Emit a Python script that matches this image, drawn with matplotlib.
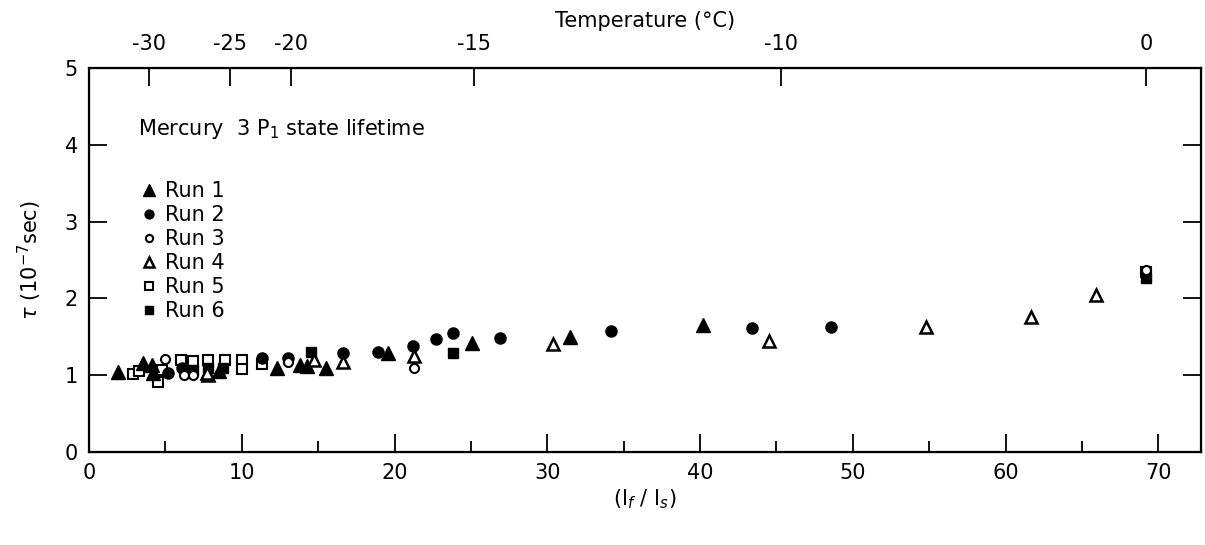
import matplotlib.pyplot as plt
from matplotlib.ticker import MultipleLocator

# data: x = I_f / I_s, y = lifetime (1e-7 s)
run1_x = [1.9, 3.5, 4.1, 4.2, 8.5, 12.3, 13.8, 14.3, 15.5, 19.6, 25.1, 31.5, 40.2]
run1_y = [1.04, 1.16, 1.13, 1.03, 1.05, 1.10, 1.13, 1.12, 1.09, 1.29, 1.42, 1.50, 1.65]

run2_x = [5.2, 6.1, 11.3, 13.0, 16.6, 18.9, 21.2, 22.7, 23.8, 26.9, 34.2, 43.4, 48.6]
run2_y = [1.03, 1.09, 1.22, 1.22, 1.29, 1.30, 1.38, 1.47, 1.55, 1.48, 1.58, 1.62, 1.63]

run3_x = [5.0, 6.2, 6.8, 13.0, 21.3, 69.2]
run3_y = [1.21, 1.00, 1.00, 1.17, 1.10, 2.37]

run4_x = [7.8, 7.7, 14.7, 16.6, 21.3, 30.4, 44.5, 54.8, 61.7, 65.9]
run4_y = [1.00, 1.03, 1.20, 1.17, 1.25, 1.41, 1.45, 1.63, 1.76, 2.04]

run5_x = [2.9, 3.3, 4.5, 4.8, 6.0, 6.8, 7.8, 8.9, 10.0, 10.0, 11.3, 69.2]
run5_y = [1.02, 1.05, 0.91, 1.07, 1.20, 1.18, 1.20, 1.20, 1.20, 1.08, 1.15, 2.35]

run6_x = [6.8, 7.8, 8.8, 14.5, 23.8, 69.2]
run6_y = [1.07, 1.09, 1.10, 1.30, 1.29, 2.27]

# top axis: temperature labels at their I_f/I_s positions
temp_pos = [3.95, 9.2, 13.2, 25.2, 45.3, 69.2]
temp_labels = ['-30', '-25', '-20', '-15', '-10', '0']

plt.rcParams['font.family'] = 'DejaVu Sans'
plt.rcParams['font.size'] = 15

fig = plt.figure(figsize=(12.05, 5.45), dpi=100)
ax = fig.add_axes([0.0739, 0.1706, 0.9228, 0.7046])

ax.plot(run1_x, run1_y, '^', color='black', ms=10, label='Run 1', zorder=3)
ax.plot(run2_x, run2_y, 'o', color='black', ms=8, label='Run 2', zorder=3)
ax.plot(run3_x, run3_y, 'o', mfc='white', mec='black', mew=1.5, ms=6.5, label='Run 3', zorder=4)
ax.plot(run4_x, run4_y, '^', mfc='white', mec='black', mew=1.8, ms=9, label='Run 4', zorder=3)
ax.plot(run5_x, run5_y, 's', mfc='white', mec='black', mew=1.5, ms=7, label='Run 5', zorder=2)
ax.plot(run6_x, run6_y, 's', color='black', ms=7, label='Run 6', zorder=2)

ax.set_xlim(0, 72.8)
ax.set_ylim(0, 5)
ax.xaxis.set_major_locator(MultipleLocator(10))
ax.xaxis.set_minor_locator(MultipleLocator(5))
ax.yaxis.set_major_locator(MultipleLocator(1))
ax.tick_params(which='major', direction='in', length=13, width=1.3, right=True, pad=8)
ax.tick_params(which='minor', direction='in', length=8, width=1.3)
ax.tick_params(axis='y', which='minor', left=False, right=False)
for s in ax.spines.values():
    s.set_linewidth(1.6)

ax.set_xlabel('(I$_f$ / I$_s$)', labelpad=3)
ax.set_ylabel(r'$\tau$ (10$^{-7}$sec)', labelpad=15)

top = ax.twiny()
top.set_xlim(ax.get_xlim())
top.set_xticks(temp_pos)
top.set_xticklabels(temp_labels)
top.tick_params(direction='in', length=13, width=1.3, pad=10)
top.set_xlabel('Temperature (°C)', labelpad=5)

leg = ax.legend(title='Mercury  3 P$_1$ state lifetime', loc='upper left',
                bbox_to_anchor=(0.035, 0.9), frameon=False, alignment='left',
                handletextpad=0.3, labelspacing=0.19, handlelength=1.0,
                borderpad=0, fontsize=15, title_fontsize=15, markerscale=0.8)
leg._legend_box.sep = 29

fig.savefig('out.png', dpi=100)
